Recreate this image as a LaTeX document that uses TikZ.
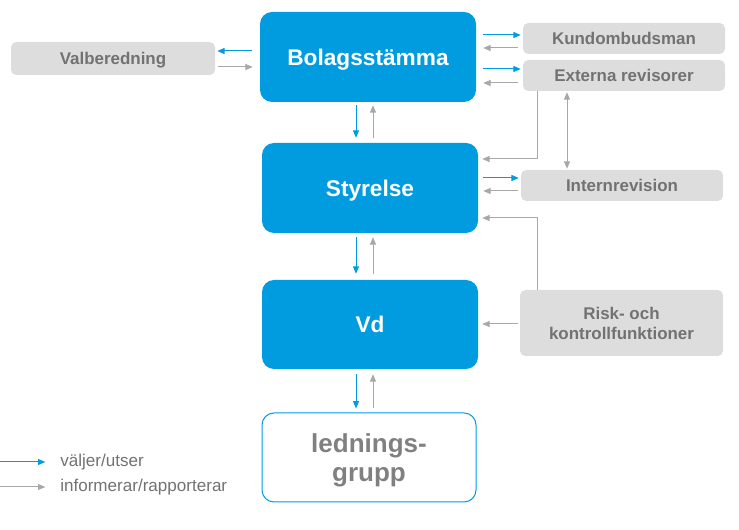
\documentclass[tikz,border=0pt]{standalone}
\usepackage{fontspec}
\setmainfont{Liberation Sans}
\usetikzlibrary{arrows.meta,calc}
\definecolor{blaa}{HTML}{009CDF}
\definecolor{graabox}{HTML}{DDDDDD}
\definecolor{graatext}{HTML}{727272}
\definecolor{graapil}{HTML}{A8A8A8}
\tikzset{
	organ/.style={fill=blaa, text=white, rounded corners=9pt, inner sep=0pt, text depth=0pt, font=\fontsize{17}{20}\selectfont\bfseries},
	extern/.style={fill=graabox, text=graatext, rounded corners=4pt, inner sep=0pt, text depth=0pt, align=center, font=\fontsize{12.7}{15}\selectfont\bfseries},
	valj/.style={draw=blaa, line width=0.75pt, -{Triangle[length=5.5pt,width=4.5pt]}},
	info/.style={draw=graapil, line width=0.75pt, -{Triangle[length=5.5pt,width=4.5pt]}}
}

\begin{document}
\begin{tikzpicture}[x=0.75pt, y=-0.75pt]
			%%%%% START %%%%%
			\useasboundingbox (0, 0) rectangle (739, 530);
			
			\node[organ, minimum width=162pt, minimum height=67.5pt] (bolag) at (368, 57) {Bolagsstämma};
			\node[organ, minimum width=162pt, minimum height=67.5pt] (styr) at (370, 188) {Styrelse};
			\node[organ, minimum width=162pt, minimum height=66.75pt] (vd) at (370, 324.5) {Vd};
			\node[draw=blaa, line width=0.75pt, rounded corners=9pt, text=graatext!90, align=center, inner sep=0pt, text depth=0pt,
				minimum width=160.5pt, minimum height=66.75pt, font=\fontsize{19.5}{21.75}\selectfont\bfseries] (ledn) at (369, 457.5) {lednings-\\grupp};
			
			\node[extern, minimum width=153pt, minimum height=24.75pt] (valb) at (113, 58.5) {Valberedning};
			\node[extern, minimum width=151.5pt, minimum height=23.25pt] (kund) at (624, 38.5) {Kundombudsman};
			\node[extern, minimum width=151.5pt, minimum height=23.25pt] (ext) at (624, 75.5) {Externa revisorer};
			\node[extern, minimum width=151.5pt, minimum height=23.25pt] (intern) at (622, 185.5) {Internrevision};
			\node[extern, minimum width=152.25pt, minimum height=49.5pt] (risk) at (621.5, 323) {Risk- och\\kontrollfunktioner};
			
			% valberedning
			\draw[valj, shorten <=6pt, shorten >=1.5pt] (bolag.west |- 0,51) -- (valb.east |- 0,51);
			\draw[info, shorten <=2.25pt, shorten >=5.25pt] (valb.east |- 0,67) -- (bolag.west |- 0,67);
			
			% kundombudsman, revisorer
			\draw[valj, shorten <=5.25pt, shorten >=1.5pt] (bolag.east |- 0,35) -- (kund.west |- 0,35);
			\draw[info, shorten <=3.75pt, shorten >=5.25pt] (kund.west |- 0,48) -- (bolag.east |- 0,48);
			\draw[valj, shorten <=5.25pt, shorten >=1.5pt] (bolag.east |- 0,69) -- (ext.west |- 0,69);
			\draw[info, shorten <=3.75pt, shorten >=5.25pt] (ext.west |- 0,83) -- (bolag.east |- 0,83);
			
			% nedåt
			\draw[valj, shorten <=2.25pt, shorten >=3.75pt] (bolag.south -| 356,0) -- (styr.north -| 356,0);
			\draw[info, shorten <=3.75pt, shorten >=2.25pt] (styr.north -| 373,0) -- (bolag.south -| 373,0);
			\draw[valj, shorten <=3pt, shorten >=4.5pt] (styr.south -| 356,0) -- (vd.north -| 356,0);
			\draw[info, shorten <=4.5pt, shorten >=3pt] (vd.north -| 373,0) -- (styr.south -| 373,0);
			\draw[valj, shorten <=3.75pt, shorten >=3pt] (vd.south -| 356,0) -- (ledn.north -| 356,0);
			\draw[info, shorten <=3pt, shorten >=3.75pt] (ledn.north -| 373,0) -- (vd.south -| 373,0);
			
			% internrevision
			\draw[valj, shorten <=3.75pt, shorten >=1.5pt] (styr.east |- 0,178) -- (intern.west |- 0,178);
			\draw[info, shorten <=2.25pt, shorten >=3.75pt] (intern.west |- 0,191) -- (styr.east |- 0,191);
			\draw[info, {Triangle[length=5.5pt,width=4.5pt]}-{Triangle[length=5.5pt,width=4.5pt]}, shorten <=0.75pt, shorten >=0.75pt]
				(ext.south -| 567,0) -- (intern.north -| 567,0);
			
			% rapportering till styrelse och vd
			\draw[info, shorten >=3pt] (ext.south -| 537,0) -- (537, 159) -- (styr.east |- 0,159);
			\draw[info, shorten >=3pt] (risk.north -| 537,0) -- (537, 218) -- (styr.east |- 0,218);
			\draw[info, shorten <=1.5pt, shorten >=3pt] (risk.west |- 0,324) -- (vd.east |- 0,324);
			
			% förklaring
			\node[anchor=west, text=graatext, inner sep=0pt, font=\fontsize{12.8}{15}\selectfont] (valjtxt) at (60, 462) {väljer/utser};
			\node[anchor=west, text=graatext, inner sep=0pt, font=\fontsize{12.8}{15}\selectfont] (infotxt) at (60, 487) {informerar/rapporterar};
			\coordinate (valjstart) at (0, 462);
			\coordinate (infostart) at (0, 487);
			\draw[valj, shorten >=11pt] (valjstart) -- (valjtxt.west);
			\draw[info, shorten >=11pt] (infostart) -- (infotxt.west);
			
			%%%%% END %%%%%
\end{tikzpicture}
\end{document}
